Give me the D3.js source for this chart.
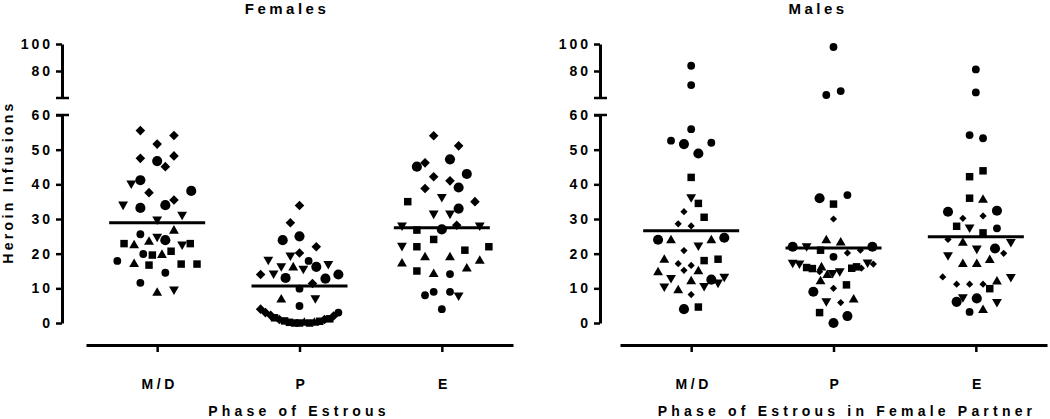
<!DOCTYPE html>
<html>
<head>
<meta charset="utf-8">
<script src="https://cdn.jsdelivr.net/npm/d3@7"></script>
<style>
  body { margin: 0; background: #fff; }
  svg text { font-family: "Liberation Sans", Arial, sans-serif; font-weight: bold; fill: #000; }
</style>
</head>
<body>
<svg id="chart"></svg>
<script>
// Categories and tick labels
const categories = ["M/D", "P", "E"];
const lowerTicks = [0, 10, 20, 30, 40, 50, 60];
const upperTicks = [80, 100];

// Points: [value, jitter (-1..1), symbol]
// D diamond, C large circle, c small circle, S square, ^ triangle up, v triangle down
const femalesMD = [
  [55.5,-0.35,"D"],[51.6,0,"D"],[54.1,0.35,"D"],[47.5,-0.35,"D"],[48.2,0.35,"D"],[45.1,0.17,"D"],[37.6,-0.17,"D"],[35.5,0.35,"D"],
  [46.7,0,"C"],[41.2,-0.35,"C"],[38.1,0.71,"C"],[33.2,-0.35,"C"],[34.0,0.17,"C"],[23.9,0.17,"C"],
  [25.6,-0.35,"c"],[19.9,-0.29,"c"],[17.9,-0.83,"c"],[14.5,0.17,"c"],[11.6,-0.35,"c"],
  [40.3,-0.54,"v"],[34.2,-0.71,"v"],[29.9,0,"v"],[31.3,0.52,"v"],[24.9,0,"v"],[22.7,0.52,"v"],[9.7,0.35,"v"],
  [26.6,0.35,"^"],[22.4,-0.48,"^"],[23.4,-0.17,"^"],[19.6,0.1,"^"],[17.0,-0.48,"^"],[8.7,0,"^"],
  [22.9,-0.69,"S"],[19.6,-0.1,"S"],[20.7,0.29,"S"],[22.9,0.69,"S"],[16.7,-0.17,"S"],[17.0,0.5,"S"],[17.0,0.83,"S"]
];
const femalesP = [
  [33.9,0,"D"],[28.9,-0.19,"D"],[22.0,0.35,"D"],[20.2,0,"D"],[14.0,-0.81,"D"],[11.4,0.27,"D"],[4.0,-0.81,"D"],
  [23.9,-0.35,"C"],[25.0,0,"C"],[13.0,-0.29,"C"],[16.2,0.35,"C"],[12.8,0.54,"C"],[14.0,0.81,"C"],
  [17.9,0.19,"c"],[9.9,0,"c"],[4.9,0,"c"],[3.0,0.81,"c"],
  [18.3,-0.65,"v"],[16.4,-0.38,"v"],[19.5,-0.19,"v"],[14.3,-0.54,"v"],[15.7,0.08,"v"],[17.1,0.6,"v"],[7.2,0.33,"v"],
  [16.0,-0.13,"^"],[6.7,-0.38,"^"],
  [3.0,-0.71,"D"],[2.2,-0.6,"D"],[1.5,-0.52,"S"],[1.0,-0.42,"D"],[0.6,-0.31,"S"],[0.2,-0.21,"S"],[0,-0.1,"S"],
  [0,0,"S"],[0,0.1,"^"],[0,0.21,"S"],[0,0.31,"^"],[0.5,0.42,"S"],[1.0,0.52,"D"],[1.2,0.63,"S"],[2.0,0.71,"D"]
];
const femalesE = [
  [54.0,-0.17,"D"],[51.1,0.35,"D"],[46.2,-0.35,"D"],[42.2,-0.17,"D"],[38.8,-0.35,"D"],[41.0,0.17,"D"],[35.0,0.69,"D"],[28.2,0.31,"D"],
  [45.1,-0.52,"C"],[47.2,0.17,"C"],[43.0,0.52,"C"],[39.1,0.35,"C"],[33.0,0.35,"C"],[27.0,0,"C"],
  [14.1,0.17,"c"],[8.0,-0.35,"c"],[9.0,-0.17,"c"],[9.0,0.17,"c"],[4.0,0,"c"],
  [31.6,-0.17,"v"],[31.6,0.17,"v"],[36.4,0,"v"],[28.2,-0.83,"v"],[28.2,0.79,"v"],[22.3,-0.83,"v"],[8.0,0.35,"v"],
  [17.1,-0.83,"^"],[18.9,-0.35,"^"],[18.9,0.17,"^"],[14.1,-0.17,"^"],[15.7,0.52,"^"],[17.9,0.79,"^"],
  [35.0,-0.71,"S"],[26.8,-0.52,"S"],[24.1,-0.17,"S"],[22.0,-0.52,"S"],[21.0,0.48,"S"],[22.0,0.98,"S"],[15.0,-0.52,"S"]
];
const malesMD = [
  [55.9,0,"c"],[52.6,-0.42,"c"],[51.6,-0.15,"C"],[48.9,0.15,"C"],[52.0,0.42,"c"],[24.0,-0.69,"C"],[24.6,0.69,"C"],[12.5,0.42,"C"],[4.0,-0.15,"C"],
  [83.9,0,"c"],[69.6,0,"c"],
  [42.0,0,"S"],[34.5,0.15,"S"],[30.5,0.27,"S"],[18.0,0.27,"S"],[18.4,0.56,"S"],[4.6,0.15,"S"],
  [36.3,0,"v"],[22.4,0.15,"v"],[13.0,-0.42,"v"],[10.6,-0.56,"v"],[10.7,0.27,"v"],[11.7,0.56,"v"],[13.4,0.69,"v"],
  [23.8,-0.42,"^"],[23.8,0.42,"^"],[18.2,-0.56,"^"],[14.6,-0.69,"^"],[14.9,0.15,"^"],[12.0,0,"^"],[9.4,-0.27,"^"],
  [32.1,-0.15,"D"],[28.6,-0.27,"D"],[28.0,0,"D"],[20.9,-0.15,"D"],[17.1,-0.27,"D"],[16.6,0,"D"],[15.2,-0.15,"D"],[8.2,0,"D"]
];
const malesP = [
  [36.0,-0.29,"C"],[36.9,0.29,"c"],[34.3,0,"S"],[30.0,0,"D"],
  [22.0,-0.85,"C"],[22.2,-0.56,"v"],[23.8,-0.15,"^"],[21.0,-0.27,"S"],[23.2,0.15,"^"],[20.2,0.29,"D"],[21.0,0.56,"D"],[22.0,0.81,"C"],[19.1,0,"c"],
  [17.4,-0.85,"v"],[17.2,-0.71,"v"],[16.0,-0.56,"S"],[15.7,-0.44,"S"],[16.0,-0.25,"^"],[14.8,-0.29,"D"],[13.8,-0.13,"^"],
  [14.5,-0.02,"v"],[15.0,0.13,"v"],[15.8,0.38,"S"],[16.2,0.48,"S"],[15.8,0.58,"D"],[17.5,0.71,"v"],[17.0,0.83,"D"],
  [12.0,-0.27,"^"],[9.0,-0.42,"C"],[10.0,0,"D"],[11.0,0.27,"S"],
  [6.3,-0.15,"v"],[5.9,0.15,"D"],[6.7,0.42,"^"],
  [3.0,-0.29,"S"],[0,0,"C"],[2.0,0.29,"C"],
  [97.8,0,"c"],[62.2,-0.15,"c"],[65.1,0.15,"c"]
];
const malesE = [
  [54.2,-0.13,"c"],[53.3,0.15,"c"],[43.9,0.15,"S"],[42.2,-0.13,"S"],[36.0,-0.13,"S"],[35.5,0.15,"^"],
  [32.1,-0.58,"C"],[30.2,-0.27,"D"],[30.9,0.15,"D"],[32.4,0.44,"C"],
  [27.9,-0.4,"S"],[27.6,-0.13,"v"],[27.3,0.44,"c"],[26.0,0.15,"S"],
  [24.1,-0.58,"D"],[23.1,-0.27,"^"],[21.5,0.02,"v"],[21.5,0.4,"C"],[20.1,0.58,"D"],[23.4,0.73,"v"],
  [19.6,-0.58,"v"],[17.0,-0.27,"^"],[17.0,0.02,"^"],[18.1,0.29,"^"],
  [13.3,0.73,"v"],[13.3,-0.69,"D"],[11.2,-0.4,"D"],[11.2,-0.13,"D"],[11.2,0.15,"D"],[11.9,0.44,"^"],[9.9,0.29,"S"],
  [7.5,-0.27,"v"],[6.1,-0.4,"C"],[7.1,0.02,"C"],[6.1,0.44,"v"],[3.2,-0.13,"c"],[3.7,0.15,"^"],
  [81.2,0,"c"],[64.1,0,"c"]
];

// Group means (horizontal bars)
const femaleMeans = [28.9, 10.7, 27.5];
const maleMeans = [26.6, 21.6, 24.9];

const width = 1050;
const height = 419;

const svg = d3.select("#chart")
    .attr("width", width)
    .attr("height", height);

// shared vertical scales (broken axis)
const yLow = d3.scaleLinear().domain([0, 60]).range([323, 115]);
const yHigh = d3.scaleLinear().domain([60, 100]).range([98, 44]);
const yPos = v => v > 60 ? yHigh(v) : yLow(v);

const jitter = d3.scaleLinear().domain([-1, 1]).range([-48, 48]);

const panels = [
  { title: "Females", titleX: 287, xTitle: "Phase of Estrous", xTitleX: 299, axisX: 62, xRange: [86, 513],
    groups: [femalesMD, femalesP, femalesE], means: femaleMeans, diamond: 46 },
  { title: "Males", titleX: 818, xTitle: "Phase of Estrous in Female Partner", xTitleX: 847, axisX: 600, xRange: [620, 1047],
    groups: [malesMD, malesP, malesE], means: maleMeans, diamond: 26 }
];

function symbolFor(code, p) {
  switch (code) {
    case "C": return { type: d3.symbolCircle, size: 80, rot: 0 };
    case "c": return { type: d3.symbolCircle, size: 48, rot: 0 };
    case "S": return { type: d3.symbolSquare, size: 56, rot: 0 };
    case "D": return { type: d3.symbolSquare, size: p.diamond, rot: 45 };
    case "^": return { type: d3.symbolTriangle, size: 42, rot: 0 };
    default:  return { type: d3.symbolTriangle, size: 42, rot: 180 };
  }
}

const labelFont = "'Liberation Sans', Arial, sans-serif";

panels.forEach(p => {
  const g = svg.append("g");
  const x = d3.scalePoint().domain(categories).range(p.xRange).padding(0.5);

  // title
  g.append("text")
    .attr("x", p.titleX).attr("y", 14)
    .attr("text-anchor", "middle")
    .style("font-size", "15px").style("letter-spacing", "3.5px")
    .text(p.title);

  // lower y axis
  const lowAxis = g.append("g")
    .attr("transform", `translate(${p.axisX},0)`)
    .call(d3.axisLeft(yLow).tickValues(lowerTicks).tickSize(6).tickSizeOuter(0).tickPadding(3));
  // upper y axis
  const highAxis = g.append("g")
    .attr("transform", `translate(${p.axisX},0)`)
    .call(d3.axisLeft(yHigh).tickValues(upperTicks).tickSize(6).tickSizeOuter(0).tickPadding(3));

  [lowAxis, highAxis].forEach(a => {
    a.select(".domain").attr("stroke-width", 3);
    a.selectAll(".tick line").attr("stroke-width", 2.5);
    a.selectAll(".tick text").style("font-size", "14px").style("letter-spacing", "3px")
      .style("font-family", labelFont).style("font-weight", "bold");
  });

  // break caps
  [yLow(60), yHigh(60)].forEach(yy => {
    g.append("line")
      .attr("x1", p.axisX - 6).attr("x2", p.axisX + 7)
      .attr("y1", yy).attr("y2", yy)
      .attr("stroke", "#000").attr("stroke-width", 2.5);
  });

  // x axis
  const xAxisG = g.append("g")
    .attr("transform", "translate(0,345)")
    .call(d3.axisBottom(x).tickSize(7).tickSizeOuter(0).tickPadding(27));
  xAxisG.select(".domain").attr("stroke-width", 3);
  xAxisG.selectAll(".tick line").attr("stroke-width", 2.5);
  xAxisG.selectAll(".tick text").style("font-size", "14px").style("letter-spacing", "3.5px")
    .attr("dx", "2px")
    .style("font-family", labelFont).style("font-weight", "bold");

  // x title
  g.append("text")
    .attr("x", p.xTitleX).attr("y", 416)
    .attr("text-anchor", "middle")
    .style("font-size", "14px").style("letter-spacing", "4.2px")
    .text(p.xTitle);

  // points
  p.groups.forEach((pts, i) => {
    const cx = x(categories[i]);
    g.selectAll(null)
      .data(pts)
      .enter()
      .append("path")
      .attr("d", d => { const s = symbolFor(d[2], p); return d3.symbol().type(s.type).size(s.size)(); })
      .attr("transform", d => `translate(${cx + jitter(d[1])},${yPos(d[0])}) rotate(${symbolFor(d[2], p).rot})`)
      .attr("fill", "#000");

    // mean bar
    g.append("line")
      .attr("x1", cx - 48).attr("x2", cx + 48)
      .attr("y1", yLow(p.means[i])).attr("y2", yLow(p.means[i]))
      .attr("stroke", "#000").attr("stroke-width", 3);
  });
});

// y axis title
svg.append("text")
  .attr("transform", "translate(13,182) rotate(-90)")
  .attr("text-anchor", "middle")
  .style("font-size", "14px").style("letter-spacing", "3.3px")
  .text("Heroin Infusions");
</script>
</body>
</html>
